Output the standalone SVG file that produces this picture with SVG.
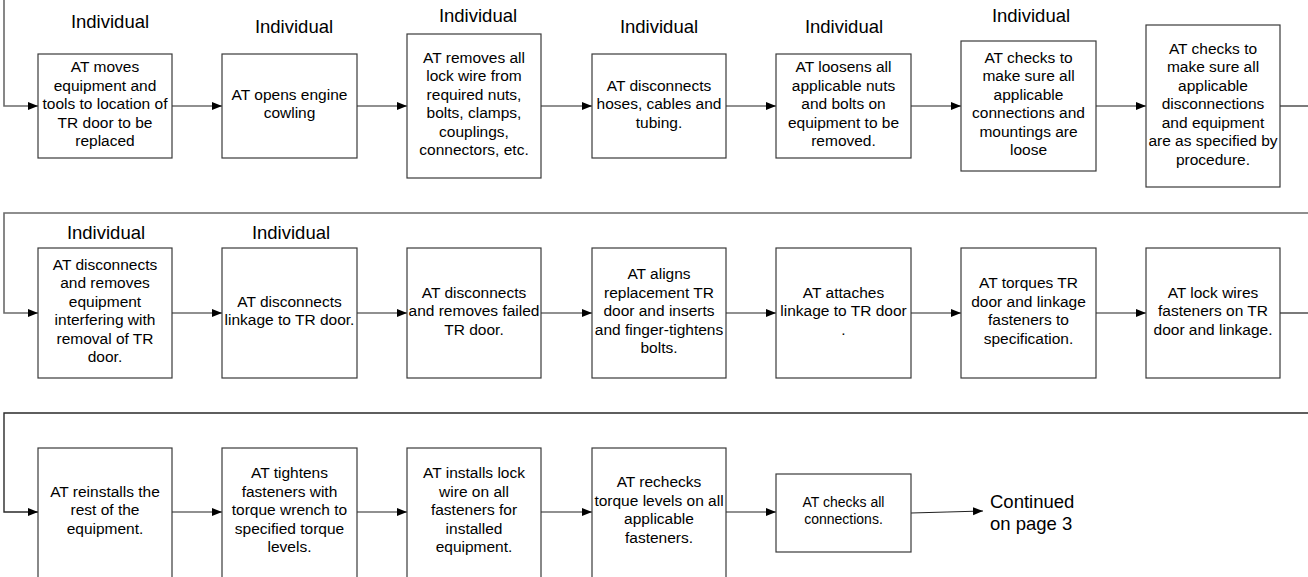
<svg xmlns="http://www.w3.org/2000/svg" width="1308" height="577" viewBox="0 0 1308 577">
  <style>
    .box { fill: #ffffff; stroke: #3a3a3a; stroke-width: 1.2; }
    .t { font-family: "Liberation Sans", Arial, sans-serif; font-size: 15.5px; fill: #000; text-anchor: middle; }
    .ts { font-family: "Liberation Sans", Arial, sans-serif; font-size: 14px; fill: #000; text-anchor: middle; }
    .lbl { font-family: "Liberation Sans", Arial, sans-serif; font-size: 18.5px; fill: #000; text-anchor: middle; }
    .cont { font-family: "Liberation Sans", Arial, sans-serif; font-size: 18.5px; fill: #000; }
    .flow { fill: none; stroke: #222; stroke-width: 1.2; }
    .wrap { fill: none; stroke: #6a6a6a; stroke-width: 1.6; }
    .wrap3 { fill: none; stroke: #2a2a2a; stroke-width: 1.4; }
  </style>
  <defs>
    <marker id="arrow" markerUnits="userSpaceOnUse" markerWidth="11" markerHeight="9" refX="10" refY="4" orient="auto">
      <path d="M0,0 L10,4 L0,8 z" fill="#000"/>
    </marker>
  </defs>
  <rect width="1308" height="577" fill="#ffffff"/>

  <!-- connectors -->
  <g id="connectors">
    <!-- row 1 -->
    <polyline class="wrap" points="4,0 4,106 38,106" marker-end="url(#arrow)"/>
    <line class="flow" x1="172" y1="106" x2="222" y2="106" marker-end="url(#arrow)"/>
    <line class="flow" x1="357" y1="106" x2="407" y2="106" marker-end="url(#arrow)"/>
    <line class="flow" x1="541" y1="106" x2="592" y2="106" marker-end="url(#arrow)"/>
    <line class="flow" x1="726" y1="106" x2="776" y2="106" marker-end="url(#arrow)"/>
    <line class="flow" x1="911" y1="106" x2="961" y2="106" marker-end="url(#arrow)"/>
    <line class="flow" x1="1096" y1="106" x2="1146" y2="106" marker-end="url(#arrow)"/>
    <line class="flow" x1="1280" y1="106" x2="1308" y2="106"/>
    <!-- row 2 -->
    <polyline class="wrap" points="1308,213 4,213 4,313 38,313" marker-end="url(#arrow)"/>
    <line class="flow" x1="172" y1="313" x2="222" y2="313" marker-end="url(#arrow)"/>
    <line class="flow" x1="357" y1="313" x2="407" y2="313" marker-end="url(#arrow)"/>
    <line class="flow" x1="541" y1="313" x2="592" y2="313" marker-end="url(#arrow)"/>
    <line class="flow" x1="726" y1="313" x2="776" y2="313" marker-end="url(#arrow)"/>
    <line class="flow" x1="911" y1="313" x2="961" y2="313" marker-end="url(#arrow)"/>
    <line class="flow" x1="1096" y1="313" x2="1146" y2="313" marker-end="url(#arrow)"/>
    <line class="flow" x1="1280" y1="313" x2="1308" y2="313"/>
    <!-- row 3 -->
    <polyline class="wrap3" points="1308,413 4,413 4,512 38,512" marker-end="url(#arrow)"/>
    <line class="flow" x1="172" y1="512" x2="222" y2="512" marker-end="url(#arrow)"/>
    <line class="flow" x1="357" y1="512" x2="407" y2="512" marker-end="url(#arrow)"/>
    <line class="flow" x1="541" y1="512" x2="592" y2="512" marker-end="url(#arrow)"/>
    <line class="flow" x1="726" y1="512" x2="776" y2="512" marker-end="url(#arrow)"/>
    <line class="flow" x1="911" y1="513" x2="983" y2="511" marker-end="url(#arrow)"/>
  </g>

  <!-- row 1 -->
  <g id="r1n1">
    <text class="lbl" x="110" y="28">Individual</text>
    <rect class="box" x="38" y="54" width="134" height="104"/>
    <text class="t"><tspan x="105" y="72">AT moves</tspan><tspan x="105" y="90.5">equipment and</tspan><tspan x="105" y="109">tools to location of</tspan><tspan x="105" y="127.5">TR door to be</tspan><tspan x="105" y="146">replaced</tspan></text>
  </g>
  <g id="r1n2">
    <text class="lbl" x="294" y="33">Individual</text>
    <rect class="box" x="222" y="54" width="135" height="104"/>
    <text class="t"><tspan x="289.5" y="99.75">AT opens engine</tspan><tspan x="289.5" y="118.25">cowling</tspan></text>
  </g>
  <g id="r1n3">
    <text class="lbl" x="478" y="22">Individual</text>
    <rect class="box" x="407" y="34" width="134" height="144"/>
    <text class="t"><tspan x="474" y="62.75">AT removes all</tspan><tspan x="474" y="81.25">lock wire from</tspan><tspan x="474" y="99.75">required nuts,</tspan><tspan x="474" y="118.25">bolts, clamps,</tspan><tspan x="474" y="136.75">couplings,</tspan><tspan x="474" y="155.25">connectors, etc.</tspan></text>
  </g>
  <g id="r1n4">
    <text class="lbl" x="659" y="33">Individual</text>
    <rect class="box" x="592" y="54" width="134" height="104"/>
    <text class="t"><tspan x="659" y="90.5">AT disconnects</tspan><tspan x="659" y="109">hoses, cables and</tspan><tspan x="659" y="127.5">tubing.</tspan></text>
  </g>
  <g id="r1n5">
    <text class="lbl" x="844" y="33">Individual</text>
    <rect class="box" x="776" y="54" width="135" height="104"/>
    <text class="t"><tspan x="843.5" y="72">AT loosens all</tspan><tspan x="843.5" y="90.5">applicable nuts</tspan><tspan x="843.5" y="109">and bolts on</tspan><tspan x="843.5" y="127.5">equipment to be</tspan><tspan x="843.5" y="146">removed.</tspan></text>
  </g>
  <g id="r1n6">
    <text class="lbl" x="1031" y="22">Individual</text>
    <rect class="box" x="961" y="41" width="135" height="130"/>
    <text class="t"><tspan x="1028.5" y="62.75">AT checks to</tspan><tspan x="1028.5" y="81.25">make sure all</tspan><tspan x="1028.5" y="99.75">applicable</tspan><tspan x="1028.5" y="118.25">connections and</tspan><tspan x="1028.5" y="136.75">mountings are</tspan><tspan x="1028.5" y="155.25">loose</tspan></text>
  </g>
  <g id="r1n7">
    <rect class="box" x="1146" y="25" width="134" height="162"/>
    <text class="t"><tspan x="1213" y="53.5">AT checks to</tspan><tspan x="1213" y="72">make sure all</tspan><tspan x="1213" y="90.5">applicable</tspan><tspan x="1213" y="109">disconnections</tspan><tspan x="1213" y="127.5">and equipment</tspan><tspan x="1213" y="146">are as specified by</tspan><tspan x="1213" y="164.5">procedure.</tspan></text>
  </g>

  <!-- row 2 -->
  <g id="r2n1">
    <text class="lbl" x="106" y="239">Individual</text>
    <rect class="box" x="38" y="248" width="134" height="130"/>
    <text class="t"><tspan x="105" y="269.75">AT disconnects</tspan><tspan x="105" y="288.25">and removes</tspan><tspan x="105" y="306.75">equipment</tspan><tspan x="105" y="325.25">interfering with</tspan><tspan x="105" y="343.75">removal of TR</tspan><tspan x="105" y="362.25">door.</tspan></text>
  </g>
  <g id="r2n2">
    <text class="lbl" x="291" y="239">Individual</text>
    <rect class="box" x="222" y="248" width="135" height="130"/>
    <text class="t"><tspan x="289.5" y="306.75">AT disconnects</tspan><tspan x="289.5" y="325.25">linkage to TR door.</tspan></text>
  </g>
  <g id="r2n3">
    <rect class="box" x="407" y="248" width="134" height="130"/>
    <text class="t"><tspan x="474" y="297.5">AT disconnects</tspan><tspan x="474" y="316">and removes failed</tspan><tspan x="474" y="334.5">TR door.</tspan></text>
  </g>
  <g id="r2n4">
    <rect class="box" x="592" y="248" width="134" height="130"/>
    <text class="t"><tspan x="659" y="279">AT aligns</tspan><tspan x="659" y="297.5">replacement TR</tspan><tspan x="659" y="316">door and inserts</tspan><tspan x="659" y="334.5">and finger-tightens</tspan><tspan x="659" y="353">bolts.</tspan></text>
  </g>
  <g id="r2n5">
    <rect class="box" x="776" y="248" width="135" height="130"/>
    <text class="t"><tspan x="843.5" y="297.5">AT attaches</tspan><tspan x="843.5" y="316">linkage to TR door</tspan><tspan x="843.5" y="334.5">.</tspan></text>
  </g>
  <g id="r2n6">
    <rect class="box" x="961" y="248" width="135" height="130"/>
    <text class="t"><tspan x="1028.5" y="288.25">AT torques TR</tspan><tspan x="1028.5" y="306.75">door and linkage</tspan><tspan x="1028.5" y="325.25">fasteners to</tspan><tspan x="1028.5" y="343.75">specification.</tspan></text>
  </g>
  <g id="r2n7">
    <rect class="box" x="1146" y="248" width="134" height="130"/>
    <text class="t"><tspan x="1213" y="297.5">AT lock wires</tspan><tspan x="1213" y="316">fasteners on TR</tspan><tspan x="1213" y="334.5">door and linkage.</tspan></text>
  </g>

  <!-- row 3 -->
  <g id="r3n1">
    <rect class="box" x="38" y="448" width="134" height="135"/>
    <text class="t"><tspan x="105" y="496.5">AT reinstalls the</tspan><tspan x="105" y="515">rest of the</tspan><tspan x="105" y="533.5">equipment.</tspan></text>
  </g>
  <g id="r3n2">
    <rect class="box" x="222" y="448" width="135" height="135"/>
    <text class="t"><tspan x="289.5" y="478">AT tightens</tspan><tspan x="289.5" y="496.5">fasteners with</tspan><tspan x="289.5" y="515">torque wrench to</tspan><tspan x="289.5" y="533.5">specified torque</tspan><tspan x="289.5" y="552">levels.</tspan></text>
  </g>
  <g id="r3n3">
    <rect class="box" x="407" y="448" width="134" height="135"/>
    <text class="t"><tspan x="474" y="478">AT installs lock</tspan><tspan x="474" y="496.5">wire on all</tspan><tspan x="474" y="515">fasteners for</tspan><tspan x="474" y="533.5">installed</tspan><tspan x="474" y="552">equipment.</tspan></text>
  </g>
  <g id="r3n4">
    <rect class="box" x="592" y="448" width="134" height="135"/>
    <text class="t"><tspan x="659" y="487.25">AT rechecks</tspan><tspan x="659" y="505.75">torque levels on all</tspan><tspan x="659" y="524.25">applicable</tspan><tspan x="659" y="542.75">fasteners.</tspan></text>
  </g>
  <g id="r3n5">
    <rect class="box" x="776" y="474" width="135" height="78"/>
    <text class="ts"><tspan x="843.5" y="506.5">AT checks all</tspan><tspan x="843.5" y="523.5">connections.</tspan></text>
  </g>
  <g id="continued">
    <text class="cont"><tspan x="990" y="508">Continued</tspan><tspan x="990" y="530">on page 3</tspan></text>
  </g>
</svg>
